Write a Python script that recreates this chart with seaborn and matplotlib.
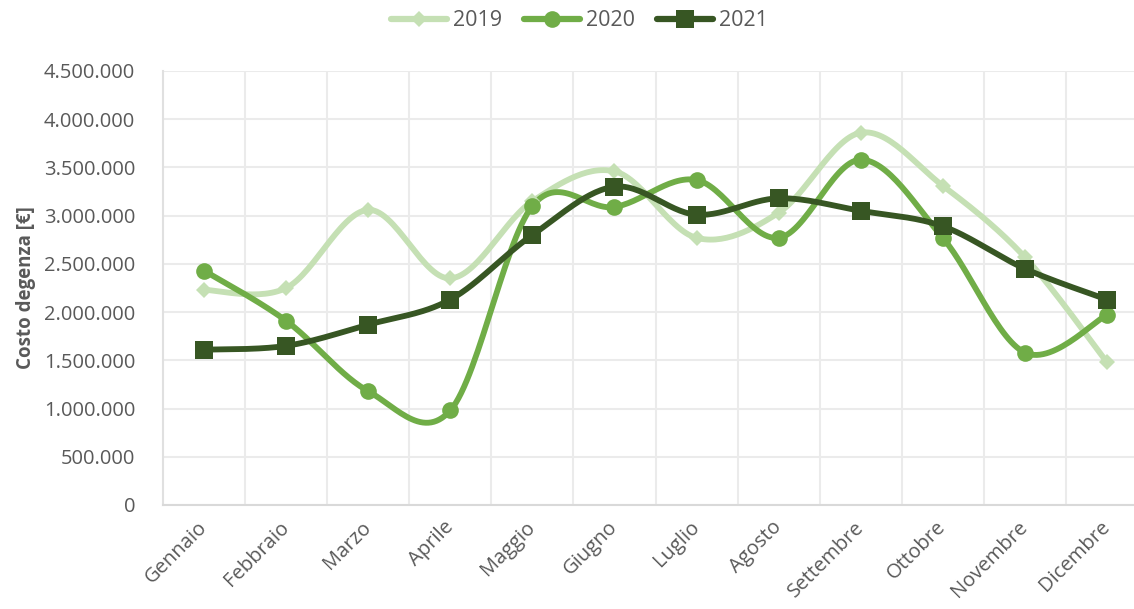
import numpy as np
import pandas as pd
import matplotlib
matplotlib.use("Agg")
import matplotlib.pyplot as plt
from matplotlib.lines import Line2D
from matplotlib.ticker import FuncFormatter, MultipleLocator
import seaborn as sns

months = ["Gennaio", "Febbraio", "Marzo", "Aprile", "Maggio", "Giugno",
          "Luglio", "Agosto", "Settembre", "Ottobre", "Novembre", "Dicembre"]
years = ["2019", "2020", "2021"]
v2019 = [2230000, 2250000, 3060000, 2350000, 3150000, 3460000,
         2770000, 3030000, 3860000, 3310000, 2570000, 1480000]
v2020 = [2430000, 1910000, 1180000, 980000, 3100000, 3090000,
         3370000, 2770000, 3580000, 2770000, 1580000, 1970000]
v2021 = [1610000, 1650000, 1870000, 2130000, 2800000, 3300000,
         3010000, 3180000, 3050000, 2890000, 2450000, 2130000]
y_label = "Costo degenza [€]"

colors = {"2019": "#C5E0B4", "2020": "#70AD47", "2021": "#375623"}
markers = {"2019": "D", "2020": "o", "2021": "s"}
msizes = {"2019": 8.5, "2020": 12, "2021": 12.5}

sns.set_theme(style="white")
plt.rcParams["font.family"] = ["Open Sans", "DejaVu Sans"]

df = pd.DataFrame({"month": months, "2019": v2019, "2020": v2020, "2021": v2021})
long = df.melt(id_vars="month", var_name="year", value_name="cost")
long["x"] = long["month"].map({m: i for i, m in enumerate(months)})


def smooth(xs, ys, n=30):
    xs = np.asarray(xs, float)
    ys = np.asarray(ys, float)
    pts = np.column_stack([xs, ys])
    out = []
    for i in range(len(pts) - 1):
        p0 = pts[i - 1] if i > 0 else pts[i]
        p1 = pts[i]
        p2 = pts[i + 1]
        p3 = pts[i + 2] if i + 2 < len(pts) else pts[i + 1]
        c1 = p1 + (p2 - p0) / 6.0
        c2 = p2 - (p3 - p1) / 6.0
        t = np.linspace(0, 1, n, endpoint=(i == len(pts) - 2))[:, None]
        seg = ((1 - t) ** 3) * p1 + 3 * ((1 - t) ** 2) * t * c1 + 3 * (1 - t) * t ** 2 * c2 + t ** 3 * p2
        out.append(seg)
    out = np.vstack(out)
    return out[:, 0], out[:, 1]


fig = plt.figure(figsize=(11.34, 6.09), dpi=100)
ax = fig.add_axes([163 / 1134, 104 / 609, (1148 - 163) / 1134, (505 - 71) / 609])

for yr in years:
    sub = long[long["year"] == yr]
    sx, sy = smooth(sub["x"], sub["cost"])
    sdf = pd.DataFrame({"x": sx, "y": sy})
    sns.lineplot(data=sdf, x="x", y="y", ax=ax, color=colors[yr], linewidth=4.2,
                 sort=False, estimator=None, legend=False, zorder=3)
    ax.plot(sub["x"], sub["cost"], linestyle="none", marker=markers[yr],
            markersize=msizes[yr], color=colors[yr], markeredgewidth=0, zorder=4)

ax.set_xlim(-0.5, 11.5)
ax.set_ylim(0, 4500000)
ax.yaxis.set_major_locator(MultipleLocator(500000))
ax.yaxis.set_major_formatter(FuncFormatter(lambda v, p: f"{int(v):,}".replace(",", ".")))
ax.set_xticks(range(len(months)))
ax.set_xticklabels(months, rotation=45, ha="right", va="center", rotation_mode="anchor")
ax.set_xticks(np.arange(0.5, 11.5, 1.0), minor=True)
ax.grid(False)
ax.grid(True, which="minor", axis="x", color="#EBEBEB", linewidth=1.5)
ax.grid(True, which="major", axis="y", color="#EBEBEB", linewidth=1.5)
ax.set_axisbelow(True)
ax.tick_params(axis="both", which="both", length=0)
ax.tick_params(axis="y", labelsize=14.5, labelcolor="#595959", pad=20)
ax.tick_params(axis="x", labelsize=14.5, labelcolor="#595959", pad=14)
for s in ["top", "right"]:
    ax.spines[s].set_visible(False)
ax.spines["left"].set_color("#E0E0E0")
ax.spines["left"].set_linewidth(1.5)
ax.spines["bottom"].set_color("#D9D9D9")
ax.spines["bottom"].set_linewidth(1.5)
ax.set_xlabel("")
ax.set_ylabel(y_label, fontsize=13.5, fontweight="bold", color="#595959", labelpad=6)

handles = [Line2D([0], [0], color=colors[yr], linewidth=4.5, marker=markers[yr],
                  markersize=msizes[yr], markeredgewidth=0) for yr in years]
fig.legend(handles, years, loc="upper center", bbox_to_anchor=(0.511, 1.015), ncol=3,
           frameon=False, fontsize=15.5, labelcolor="#595959", handlelength=2.6,
           columnspacing=1.0, handletextpad=0.3)

fig.savefig("out.png", dpi=100)
